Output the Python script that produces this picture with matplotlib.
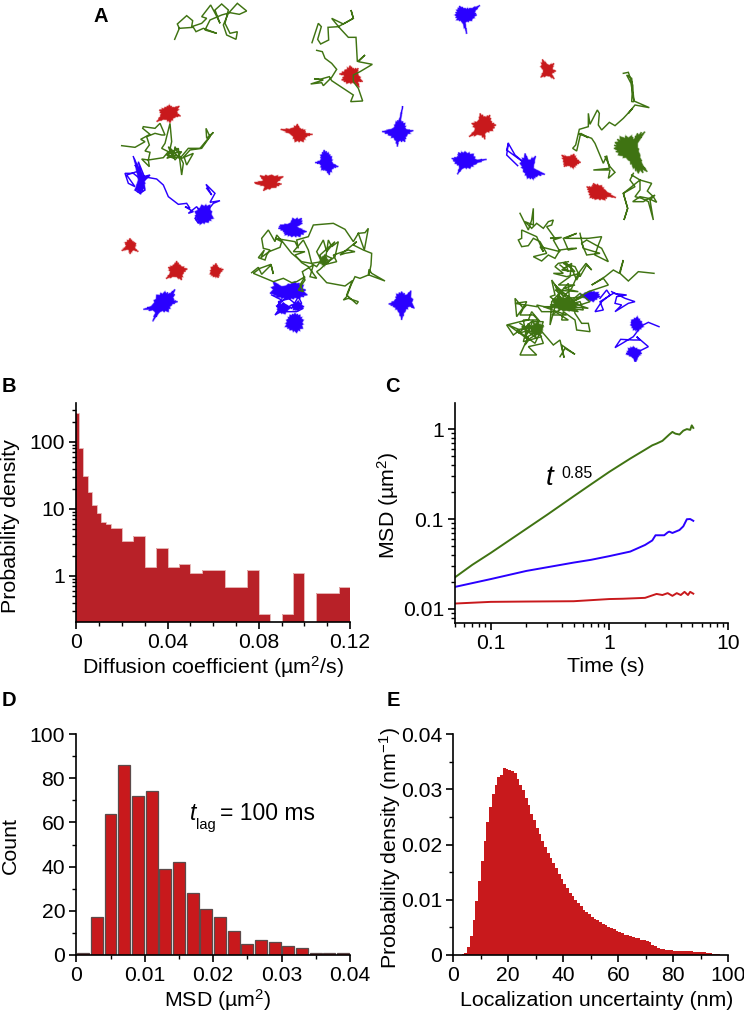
"""Single-particle tracking figure: tracks (A), D histogram (B), MSD (C), MSD histogram (D), uncertainty (E)."""
import matplotlib
matplotlib.use("Agg")
import matplotlib.pyplot as plt
import numpy as np
from matplotlib.ticker import FixedLocator, NullFormatter

WIDTH, HEIGHT = 744, 1014
GREEN = "#3f7312"
BLUE = "#2a00ff"
RED = "#c8191c"
DARK_RED = "#b82128"

plt.rcParams["font.family"] = ["Liberation Sans", "DejaVu Sans"]
plt.rcParams["mathtext.default"] = "regular"
plt.rcParams["font.size"] = 15.4

CROP_1 = (90, 0)
CROP_2 = (100, 180)
CROP_3 = (420, 0)
CROP_9 = (110, 115)
CROP_10 = (245, 210)
CROP_11 = (500, 205)
CROP_12 = (560, 65)

GREEN_TOP_LEFT = [(254, 118), (268, 85), (262, 72), (290, 47), (308, 62), (305, 80), (335, 70), (350, 55), (335, 50), (362, 15), (378, 45), (390, 70), (375, 30), (395, 12), (415, 30), (405, 70), (420, 100), (442, 95), (438, 118), (410, 105), (400, 75), (415, 40), (442, 10), (470, 33), (448, 43), (420, 38), (395, 45), (360, 60), (345, 90), (380, 100), (340, 85), (318, 95), (310, 82), (268, 85)]
GREEN_TOP_MID = [(666, 128), (685, 70), (694, 80), (683, 118), (692, 132), (716, 120), (714, 82), (745, 80), (790, 55), (783, 30), (790, 55), (760, 72), (725, 55), (750, 85), (775, 112), (798, 112), (802, 185), (825, 165), (805, 185), (847, 193), (810, 215), (790, 225), (790, 245), (805, 265), (818, 303), (782, 305), (790, 285), (725, 242), (718, 230), (690, 238), (672, 236), (700, 240), (662, 252), (695, 248), (700, 257), (725, 232), (740, 208), (725, 190), (705, 175), (697, 155), (680, 151)]
GREEN_LEFT = [(35, 92), (75, 97), (105, 80), (92, 73), (120, 58), (98, 40), (100, 35), (135, 40), (150, 25), (165, 60), (155, 60), (135, 55), (110, 65), (118, 90), (105, 108), (120, 112), (115, 135), (95, 132), (118, 155), (115, 135), (160, 128), (175, 110), (155, 100), (165, 85), (180, 25), (185, 80), (175, 125), (195, 130), (170, 120), (205, 100), (215, 180), (220, 145), (195, 95), (190, 125), (215, 130), (250, 115), (230, 150), (222, 125), (240, 105), (275, 100), (300, 65), (288, 40), (290, 70), (310, 52), (270, 100), (235, 100), (210, 130), (175, 95), (185, 120), (170, 130), (200, 120), (180, 100), (195, 135), (215, 110), (175, 115)]
GREEN_MID_A = [(20, 188), (40, 172), (50, 193), (78, 165), (85, 192), (78, 163), (45, 175), (25, 190), (85, 215), (115, 205), (140, 218), (155, 215), (180, 200), (165, 225), (175, 245), (160, 240), (180, 210), (172, 185), (205, 165), (195, 200), (215, 205), (190, 170), (170, 158), (150, 135), (180, 125), (145, 125), (175, 90), (190, 120), (200, 160), (230, 155), (215, 125), (235, 90), (245, 125), (238, 165), (270, 140), (280, 95), (260, 110), (250, 90), (245, 125), (270, 95), (225, 135), (235, 165), (275, 155), (265, 135), (310, 120), (330, 125), (300, 130), (285, 135), (335, 95), (325, 105), (355, 120), (380, 130), (378, 165), (372, 195), (420, 213), (380, 190), (372, 178), (370, 195), (345, 205), (330, 200), (318, 225), (305, 260), (295, 270), (310, 265), (340, 275), (335, 282), (305, 255), (322, 212), (300, 228), (245, 218), (215, 185), (225, 178), (260, 145)]
GREEN_MID_B = [(260, 145), (240, 135), (215, 170), (198, 160), (170, 155), (140, 130), (110, 92), (95, 75), (90, 95), (70, 60), (50, 85), (55, 115), (75, 120), (65, 135), (60, 150), (40, 143), (58, 120), (48, 143), (72, 125), (105, 112), (110, 95), (90, 85), (150, 95), (160, 115), (155, 90), (190, 80), (205, 45), (265, 40), (300, 58), (325, 95), (340, 70), (360, 68), (370, 55), (358, 120), (340, 70)]
GREEN_UPPER_RIGHT = [(190, 25), (205, 22), (218, 60), (215, 110), (222, 110), (213, 55), (200, 30), (215, 40), (222, 108), (268, 128), (225, 120), (205, 145), (218, 130), (190, 160), (165, 182), (148, 172), (125, 195), (115, 180), (118, 145), (112, 135), (90, 178), (85, 145), (85, 185), (58, 193), (47, 240), (38, 250), (50, 258), (62, 205), (85, 218), (55, 205), (95, 220), (105, 235), (130, 295), (140, 272), (148, 310), (100, 315), (150, 315), (145, 340), (165, 322), (150, 305), (135, 275)]
GREEN_LOWER_RIGHT = [(220, 325), (210, 345), (225, 365), (190, 385), (203, 430), (192, 465), (203, 430), (190, 385), (240, 345), (275, 355), (262, 378), (280, 395), (290, 412), (265, 400), (240, 395), (218, 410), (250, 410), (285, 390), (270, 405), (280, 465), (265, 410), (245, 400), (225, 395), (240, 375), (240, 345), (215, 330)]
GREEN_BIG_TOP = [(60, 25), (85, 75), (95, 45), (100, 10), (100, 60), (75, 50), (95, 70), (110, 55), (130, 70), (145, 50), (160, 45), (155, 60), (140, 65), (165, 100), (150, 100), (185, 97), (160, 105), (180, 140), (120, 125), (130, 140), (110, 95), (65, 75), (65, 100), (55, 105), (65, 125), (85, 122), (100, 100), (120, 110), (140, 145), (100, 155), (125, 168), (145, 150), (165, 160), (180, 135), (215, 130), (230, 130), (205, 135), (190, 100), (230, 85), (195, 100), (240, 100), (265, 100), (305, 95), (295, 120), (285, 150), (325, 170), (305, 130), (260, 105), (245, 115), (260, 150), (300, 145), (250, 130), (240, 85)]
GREEN_BIG_MID = [(205, 170), (175, 175), (165, 185), (190, 205), (160, 205), (200, 215), (240, 205), (230, 225), (215, 190), (190, 175), (225, 185), (240, 215), (260, 180), (275, 195), (258, 175), (235, 205), (215, 250), (190, 275), (155, 225), (165, 270), (150, 275), (175, 295), (155, 310), (110, 300), (125, 320), (165, 320), (205, 345), (185, 345), (190, 320), (225, 345), (230, 375), (270, 380), (265, 355), (245, 355), (225, 325), (215, 280), (180, 260), (170, 300), (240, 300), (270, 290), (240, 265), (200, 300), (175, 270), (150, 360), (155, 290), (205, 235), (210, 310), (250, 315), (240, 290), (190, 300), (165, 240), (210, 280)]
GREEN_BIG_DENSE = [(180, 180), (205, 200), (195, 170), (225, 200), (185, 195), (215, 175), (210, 215), (175, 240), (225, 240), (190, 250), (235, 260), (165, 255), (220, 290), (150, 300), (265, 310), (190, 285), (235, 320), (175, 310), (250, 275), (160, 285), (225, 305), (130, 305), (200, 330), (155, 330), (235, 280)]
GREEN_BIG_LOW = [(110, 305), (80, 300), (70, 310), (45, 280), (50, 335), (75, 300), (45, 295), (80, 290), (60, 330), (100, 330), (120, 350), (95, 320), (85, 345), (60, 350), (20, 360), (40, 390), (60, 375), (25, 360), (80, 400), (70, 345), (115, 345), (110, 385), (100, 350), (130, 350), (115, 385), (90, 400), (75, 420), (85, 395), (60, 450), (110, 450), (85, 425), (130, 415), (110, 360), (130, 385), (160, 420), (180, 405), (192, 458), (185, 420), (225, 448), (195, 430), (180, 455)]
GREEN_BIG_LOW_DENSE = [(60, 355), (90, 375), (55, 385), (100, 345), (75, 400), (125, 370), (65, 365), (110, 400), (85, 355), (70, 410), (125, 395), (95, 365), (50, 375), (105, 415), (130, 360), (80, 385)]
GREEN_BIG_RIGHT = [(462, 205), (415, 200), (385, 228), (360, 205), (370, 165), (358, 205), (340, 195), (315, 215), (275, 240), (310, 220), (325, 240), (265, 260), (215, 290)]
GREEN_KNOT_UPPER = [(165, 232), (180, 215), (215, 212), (222, 222), (232, 205), (255, 200), (232, 235), (240, 270), (250, 305), (262, 320), (235, 325), (220, 310), (205, 285), (175, 270), (162, 250)]
GREEN_KNOT_MID = [(158, 290), (175, 272), (205, 282), (235, 295), (225, 318), (190, 318), (162, 308)]
GREEN_KNOT_LOW = [(95, 362), (112, 350), (130, 365), (125, 385), (105, 392), (92, 382)]
GREEN_KNOT_CENTRE = [(225, 145), (240, 135), (250, 150), (238, 168), (225, 160)]

BLUE_LEFT = [(70, 125), (85, 160), (75, 150), (95, 185), (85, 140), (105, 190), (90, 215), (75, 225), (90, 235), (105, 225), (95, 195), (70, 175), (45, 175), (55, 205), (75, 215), (50, 180), (80, 170), (105, 195), (120, 180), (100, 185), (140, 192), (160, 210), (175, 245), (205, 268), (230, 265), (240, 280), (225, 275), (250, 290), (235, 295), (260, 275), (270, 290), (255, 310), (265, 325), (290, 290), (310, 265), (330, 257), (300, 262), (315, 235), (288, 208), (305, 240), (290, 220)]
BLUE_LEFT_BLOB = [(255, 290), (275, 270), (300, 270), (310, 310), (295, 322), (270, 328), (258, 315)]
BLUE_LEFT_SMALL = [(72, 130), (90, 160), (105, 190), (105, 220), (92, 238), (75, 225), (85, 195)]
BLUE_TRACK_E = [(293, 497), (260, 465), (265, 430), (285, 465), (315, 490), (260, 450), (265, 430)]
BLUE_SCRIBBLE = [(515, 345), (545, 360), (530, 380), (560, 350), (590, 375), (605, 370), (595, 350), (575, 385), (550, 370), (525, 405), (550, 390), (575, 375), (610, 385), (590, 395), (560, 395), (545, 385), (535, 365), (570, 355)]
BLUE_RIGHT_TRACK = [(300, 280), (320, 255), (330, 270), (305, 290), (285, 320), (310, 315), (300, 290), (340, 265), (380, 270), (350, 275), (345, 295), (365, 300), (345, 320), (385, 295), (405, 290), (375, 280), (335, 260)]
BLUE_LOW_TRACK = [(477, 365), (445, 352), (420, 365), (410, 345), (395, 350), (415, 375), (400, 395), (345, 428), (362, 403), (400, 405), (420, 405), (410, 395), (445, 425), (415, 440), (405, 470), (400, 440), (380, 445)]

BLUE_BLOBS_1 = [
    [(702, 450), (715, 458), (725, 470), (728, 490), (745, 500), (730, 505), (718, 525), (708, 512), (695, 510), (690, 492), (675, 488), (692, 480), (692, 465)],
    [(938, 318), (932, 360), (945, 370), (948, 388), (970, 392), (950, 408), (945, 425), (925, 425), (922, 440), (915, 420), (895, 405), (876, 395), (910, 385), (918, 365), (928, 358)],
]
BLUE_BLOBS_2 = [
    [(540, 135), (570, 130), (578, 115), (605, 115), (607, 130), (590, 140), (620, 155), (600, 170), (575, 170), (555, 165), (550, 155), (535, 145)],
    [(225, 328), (222, 360), (233, 365), (215, 375), (205, 395), (180, 395), (158, 424), (165, 395), (130, 388), (155, 378), (170, 345), (195, 335), (210, 340)],
    [(905, 335), (920, 345), (933, 332), (943, 385), (930, 378), (915, 395), (905, 420), (895, 395), (880, 380), (866, 372), (885, 360), (890, 342)],
    [(585, 400), (600, 405), (610, 420), (608, 445), (590, 458), (570, 450), (556, 440), (560, 420), (570, 405)],
    [(520, 305), (545, 320), (585, 305), (610, 315), (622, 345), (600, 355), (560, 358), (530, 352), (510, 340)],
    [(530, 378), (550, 368), (570, 385), (555, 402), (535, 398)],
    [(575, 375), (595, 362), (612, 380), (595, 392), (580, 390)],
]
BLUE_BLOBS_3 = [
    [(118, 18), (135, 25), (150, 25), (180, 16), (165, 35), (170, 45), (155, 62), (135, 68), (140, 102), (125, 65), (110, 60), (105, 45), (110, 30)],
    [(115, 458), (135, 455), (160, 462), (170, 480), (200, 478), (168, 492), (150, 505), (128, 505), (112, 523), (118, 500), (105, 490), (95, 475), (112, 470)],
    [(315, 460), (325, 480), (347, 468), (340, 505), (375, 523), (350, 530), (340, 538), (322, 535), (310, 515), (300, 490)],
]
BLUE_BLOBS_11 = [
    [(240, 270), (270, 258), (295, 262), (300, 275), (280, 290), (262, 285)],
    [(395, 345), (412, 335), (425, 350), (430, 365), (415, 378), (400, 375), (392, 360)],
    [(385, 430), (400, 425), (420, 435), (425, 445), (415, 455), (408, 470), (398, 458), (380, 448)],
]

RED_BLOBS_1 = [
    [(780, 197), (790, 205), (805, 205), (803, 218), (818, 245), (805, 245), (808, 262), (795, 250), (770, 250), (755, 240), (762, 225), (748, 222), (765, 210)],
    [(238, 315), (250, 322), (268, 318), (262, 340), (272, 348), (255, 352), (240, 368), (225, 358), (200, 365), (212, 345), (208, 330), (225, 322)],
    [(572, 388), (605, 385), (622, 372), (630, 385), (645, 390), (648, 400), (668, 403), (650, 410), (640, 425), (615, 425), (605, 405)],
]
RED_BLOBS_2 = [
    [(463, 8), (490, 2), (480, -13), (515, -15), (550, -10), (530, 10), (545, 12), (528, 22), (490, 32), (495, 20), (470, 12)],
    [(90, 175), (100, 185), (108, 190), (105, 205), (115, 215), (100, 210), (90, 222), (85, 208), (65, 212), (78, 198), (75, 188)],
    [(230, 243), (240, 255), (262, 267), (250, 280), (245, 300), (225, 290), (198, 296), (210, 280), (205, 262), (220, 255)],
    [(348, 250), (355, 262), (370, 268), (360, 280), (355, 293), (340, 290), (330, 282), (333, 262)],
]
RED_BLOBS_3 = [
    [(367, 178), (385, 195), (402, 190), (397, 208), (408, 213), (395, 222), (403, 237), (385, 228), (362, 232), (370, 212), (362, 200)],
    [(180, 340), (195, 350), (210, 345), (215, 365), (228, 375), (218, 392), (195, 400), (195, 418), (180, 405), (147, 410), (165, 390), (155, 370), (175, 362)],
    [(425, 465), (445, 470), (462, 462), (470, 475), (482, 487), (470, 495), (460, 505), (445, 497), (432, 500), (430, 485)],
]
RED_BLOBS_12 = [
    [(80, 365), (95, 365), (100, 355), (125, 362), (135, 375), (168, 398), (145, 395), (135, 405), (105, 403), (90, 398), (85, 380)],
]

# Panel B: probability density on uneven bins
DIFF_EDGES = [0, 0.001, 0.003, 0.005, 0.007, 0.009, 0.011, 0.013, 0.015, 0.02, 0.025, 0.03, 0.035, 0.04, 0.045, 0.05, 0.055, 0.06, 0.065, 0.07, 0.075, 0.08, 0.085, 0.09, 0.095, 0.1, 0.105, 0.11, 0.115, 0.12]
DIFF_DENSITY = [270, 82, 31.5, 18, 11.5, 8.8, 6.4, 6.0, 5.2, 3.3, 4.0, 1.36, 2.6, 1.36, 1.5, 1.1, 1.23, 1.23, 0.68, 0.68, 1.23, 0.27, 0.1, 0.27, 1.1, 0.1, 0.55, 0.55, 0.68]

# Panel C: MSD curves
GREEN_T = [0.05, 0.07, 0.1, 0.2, 0.3, 0.5, 0.7, 1, 1.5, 2, 2.3, 2.5, 2.8, 3.2, 3.4, 3.6, 3.9, 4.2, 4.5, 4.8, 4.95, 5.1]
GREEN_MSD = [0.0225, 0.031, 0.042, 0.078, 0.112, 0.179, 0.243, 0.335, 0.47, 0.59, 0.66, 0.69, 0.74, 0.87, 0.93, 0.89, 0.87, 0.96, 1.0, 0.98, 1.1, 1.03]
BLUE_T = [0.05, 0.1, 0.2, 0.5, 0.7, 1, 1.5, 2, 2.3, 2.45, 2.9, 3.1, 3.2, 3.4, 3.9, 4.2, 4.5, 4.8, 5.1]
BLUE_MSD = [0.0176, 0.0215, 0.0265, 0.0328, 0.0352, 0.0387, 0.0435, 0.0515, 0.0578, 0.066, 0.066, 0.071, 0.0725, 0.07, 0.0755, 0.083, 0.0995, 0.1, 0.0955]
RED_T = [0.05, 0.1, 0.2, 0.5, 1, 1.3, 2, 2.5, 2.8, 3.1, 3.4, 3.7, 4, 4.3, 4.6, 4.8, 5.1]
RED_MSD = [0.0115, 0.012, 0.0121, 0.0122, 0.0129, 0.013, 0.0133, 0.0147, 0.0143, 0.015, 0.014, 0.015, 0.0143, 0.0155, 0.0143, 0.0155, 0.0148]

# Panel D: counts in 0.002 um^2 bins
MSD_CENTRES = [0.001, 0.003, 0.005, 0.007, 0.009, 0.011, 0.013, 0.015, 0.017, 0.019, 0.021, 0.023, 0.025, 0.027, 0.029, 0.031, 0.033, 0.035, 0.037, 0.039]
MSD_COUNTS = [1, 17, 64, 86, 72, 74, 39, 42, 28, 21, 17, 11, 5, 7, 6, 4, 3, 1, 1, 1]

# Panel E: density in 1 nm bins, 0-100 nm
UNCERTAINTY_DENSITY = [
    0, 0, 0, 0.0001, 0.0004, 0.0014, 0.0034, 0.0063, 0.0097, 0.0134,
    0.017, 0.0207, 0.0241, 0.0268, 0.0292, 0.0308, 0.0322, 0.0325, 0.0339, 0.0337,
    0.0334, 0.0333, 0.033, 0.0318, 0.0308, 0.0299, 0.0285, 0.0271, 0.0256, 0.0245,
    0.023, 0.0219, 0.0207, 0.0196, 0.0184, 0.0175, 0.0166, 0.0157, 0.0147, 0.0138,
    0.0129, 0.0121, 0.0113, 0.0106, 0.01, 0.0094, 0.0088, 0.0082, 0.0077, 0.0074,
    0.0069, 0.0066, 0.0063, 0.006, 0.0057, 0.0054, 0.0051, 0.0048, 0.0047, 0.0044,
    0.0042, 0.0039, 0.0037, 0.0036, 0.0034, 0.0033, 0.0031, 0.003, 0.0028, 0.0027,
    0.0025, 0.0024, 0.0019, 0.0016, 0.0012, 0.0011, 0.001, 0.0009, 0.0009, 0.0009,
    0.0008, 0.0008, 0.0008, 0.0007, 0.0007, 0.0007, 0.0007, 0.0006, 0.0006, 0.0006,
    0.0005, 0.0005, 0.0004, 0.0004, 0.0002, 0.0001, 0.0001, 0.00005, 0, 0,
]


def fx(x):
    return x / WIDTH


def fy(y):
    return 1 - y / HEIGHT


def add_panel(fig, left, right, top, bottom):
    ax = fig.add_axes([fx(left), fy(bottom), fx(right - left), (bottom - top) / HEIGHT])
    ax.spines[["top", "right"]].set_visible(False)
    ax.spines[["left", "bottom"]].set_linewidth(1.2)
    ax.tick_params(which="major", direction="out", length=5, width=1.2, pad=3, labelsize=15.2)
    ax.tick_params(which="minor", direction="out", length=3, width=1.0)
    ax.patch.set_alpha(0)
    return ax


def place_labels(ax, fig, xlabel, x_pos, ylabel, y_pos):
    ax.set_xlabel(xlabel, va="center", fontsize=15.4)
    ax.set_ylabel(ylabel, va="center", fontsize=15.4)
    ax.xaxis.set_label_coords(fx(x_pos[0]), fy(x_pos[1]), transform=fig.transFigure)
    ax.yaxis.set_label_coords(fx(y_pos[0]), fy(y_pos[1]), transform=fig.transFigure)


def to_px(points, origin):
    pts = np.array(points, dtype=float) / 3
    return pts[:, 0] + origin[0], pts[:, 1] + origin[1]


def draw_track(ax, points, origin, color):
    x, y = to_px(points, origin)
    ax.plot(x, y, color=color, lw=1.05, solid_joinstyle="miter")


def draw_blob(ax, points, origin, color):
    # outline as read, with each edge cut into small spikes so it looks like a jittering spot
    x, y = to_px(points, origin)
    cx, cy = x.mean(), y.mean()
    nx, ny = np.roll(x, -1), np.roll(y, -1)
    spiky_x, spiky_y = [], []
    for i in range(len(x)):
        spiky_x += [x[i], cx + (x[i] * 2 / 3 + nx[i] / 3 - cx) * 0.86, cx + ((x[i] + nx[i]) / 2 - cx) * 1.02, cx + (x[i] / 3 + nx[i] * 2 / 3 - cx) * 0.86]
        spiky_y += [y[i], cy + (y[i] * 2 / 3 + ny[i] / 3 - cy) * 0.86, cy + ((y[i] + ny[i]) / 2 - cy) * 1.02, cy + (y[i] / 3 + ny[i] * 2 / 3 - cy) * 0.86]
    ax.fill(spiky_x, spiky_y, color=color, lw=1.4, alpha=0.3)
    ax.fill(spiky_x, spiky_y, color=color, lw=0.4)


def draw_tracks_panel(fig):
    ax = fig.add_axes([0, 0, 1, 1])
    ax.set_xlim(0, WIDTH)
    ax.set_ylim(HEIGHT, 0)
    ax.axis("off")

    for blobs, origin in [(RED_BLOBS_1, CROP_1), (RED_BLOBS_2, CROP_2), (RED_BLOBS_3, CROP_3), (RED_BLOBS_12, CROP_12)]:
        for blob in blobs:
            draw_blob(ax, blob, origin, RED)
    for blobs, origin in [(BLUE_BLOBS_1, CROP_1), (BLUE_BLOBS_2, CROP_2), (BLUE_BLOBS_3, CROP_3)]:
        for blob in blobs:
            draw_blob(ax, blob, origin, BLUE)
    draw_blob(ax, BLUE_LEFT_BLOB, CROP_9, BLUE)
    draw_blob(ax, BLUE_LEFT_SMALL, CROP_9, BLUE)
    draw_track(ax, BLUE_LEFT, CROP_9, BLUE)
    draw_track(ax, BLUE_TRACK_E, CROP_3, BLUE)
    draw_track(ax, BLUE_SCRIBBLE, CROP_2, BLUE)

    draw_track(ax, GREEN_TOP_LEFT, CROP_1, GREEN)
    draw_track(ax, GREEN_TOP_MID, CROP_1, GREEN)
    draw_track(ax, GREEN_LEFT, CROP_9, GREEN)
    draw_track(ax, GREEN_MID_A, CROP_10, GREEN)
    draw_track(ax, GREEN_MID_B, CROP_10, GREEN)
    draw_blob(ax, GREEN_KNOT_CENTRE, CROP_10, GREEN)
    draw_track(ax, GREEN_UPPER_RIGHT, CROP_12, GREEN)
    draw_track(ax, GREEN_LOWER_RIGHT, CROP_12, GREEN)
    draw_blob(ax, GREEN_KNOT_UPPER, CROP_12, GREEN)
    for track in [GREEN_BIG_TOP, GREEN_BIG_MID, GREEN_BIG_DENSE, GREEN_BIG_LOW, GREEN_BIG_LOW_DENSE, GREEN_BIG_RIGHT]:
        draw_track(ax, track, CROP_11, GREEN)
    draw_blob(ax, GREEN_KNOT_MID, CROP_11, GREEN)
    draw_blob(ax, GREEN_KNOT_LOW, CROP_11, GREEN)

    for blob in BLUE_BLOBS_11:
        draw_blob(ax, blob, CROP_11, BLUE)
    draw_track(ax, BLUE_RIGHT_TRACK, CROP_11, BLUE)
    draw_track(ax, BLUE_LOW_TRACK, CROP_11, BLUE)


def draw_diffusion_panel(fig):
    ax = add_panel(fig, 76.3, 350, 403, 622)
    edges = np.array(DIFF_EDGES)
    ax.bar(edges[:-1], DIFF_DENSITY, width=np.diff(edges), align="edge", color=DARK_RED, lw=0)
    ax.stairs(DIFF_DENSITY, edges, color="#e6b5b5", lw=0.7, baseline=None)
    ax.set_yscale("log")
    ax.set_xlim(0, 0.12)
    ax.set_ylim(0.205, 382)
    ax.set_xticks([0, 0.04, 0.08, 0.12], ["0", "0.04", "0.08", "0.12"])
    ax.xaxis.set_minor_locator(FixedLocator(np.arange(0, 0.121, 0.01)))
    ax.set_yticks([1, 10, 100], ["1", "10", "100"])
    ax.yaxis.set_minor_locator(FixedLocator([0.3, 0.4, 0.5, 0.6, 0.7, 0.8, 0.9, 2, 3, 4, 5, 6, 7, 8, 9, 20, 30, 40, 50, 60, 70, 80, 90, 200, 300]))
    ax.yaxis.set_minor_formatter(NullFormatter())
    place_labels(ax, fig, "Diffusion coefficient (µm$^{2}$/s)", (213, 667), "Probability density", (11, 526))


def draw_msd_curves_panel(fig):
    ax = add_panel(fig, 455, 728, 403, 622.7)
    ax.plot(GREEN_T, GREEN_MSD, color=GREEN, lw=1.4)
    ax.plot(BLUE_T, BLUE_MSD, color=BLUE, lw=1.4)
    ax.plot(RED_T, RED_MSD, color=RED, lw=1.4)
    ax.set_xscale("log")
    ax.set_yscale("log")
    ax.set_xlim(0.05, 10)
    ax.set_ylim(0.00704, 1.95)
    ax.set_xticks([0.1, 1, 10], ["0.1", "1", "10"])
    ax.set_yticks([0.01, 0.1, 1], ["0.01", "0.1", "1"])
    ax.xaxis.set_minor_formatter(NullFormatter())
    ax.yaxis.set_minor_formatter(NullFormatter())
    place_labels(ax, fig, "Time (s)", (606, 667), "MSD (µm$^{2}$)", (388, 505))
    fig.text(fx(546), fy(478), "t", style="italic", fontsize=20, ha="left", va="center")
    fig.text(fx(561), fy(473), "0.85", fontsize=11.5, ha="left", va="center")


def draw_msd_hist_panel(fig):
    ax = add_panel(fig, 76.3, 350, 734, 955)
    ax.bar(MSD_CENTRES, MSD_COUNTS, width=0.00175, color=RED, edgecolor="#5c4a4a", lw=0.9)
    ax.set_xlim(0, 0.04)
    ax.set_ylim(0, 100)
    ax.set_xticks([0, 0.01, 0.02, 0.03, 0.04], ["0", "0.01", "0.02", "0.03", "0.04"])
    ax.xaxis.set_minor_locator(FixedLocator([0.005, 0.015, 0.025, 0.035]))
    ax.set_yticks([0, 20, 40, 60, 80, 100])
    ax.yaxis.set_minor_locator(FixedLocator([10, 30, 50, 70, 90]))
    place_labels(ax, fig, "MSD (µm$^{2}$)", (218, 1000), "Count", (10, 846))
    fig.text(fx(190), fy(813), "t", style="italic", fontsize=16.5, ha="left", va="center")
    fig.text(fx(196), fy(825), "lag", fontsize=10.5, ha="left", va="center")
    fig.text(fx(220), fy(813), "= 100 ms", fontsize=16.5, ha="left", va="center")


def draw_uncertainty_panel(fig):
    ax = add_panel(fig, 453.3, 728.3, 734, 955)
    edges = np.arange(0, 101)
    ax.bar(edges[:-1], UNCERTAINTY_DENSITY, width=1, align="edge", color=RED, lw=0)
    ax.set_xlim(0, 100)
    ax.set_ylim(0, 0.04)
    ax.set_xticks([0, 20, 40, 60, 80, 100])
    ax.xaxis.set_minor_locator(FixedLocator([10, 30, 50, 70, 90]))
    ax.set_yticks([0, 0.01, 0.02, 0.03, 0.04], ["0", "0.01", "0.02", "0.03", "0.04"])
    ax.yaxis.set_minor_locator(FixedLocator([0.005, 0.015, 0.025, 0.035]))
    place_labels(ax, fig, "Localization uncertainty (nm)", (597, 1001), "Probability density (nm$^{-1}$)", (390, 848))


def main():
    fig = plt.figure(figsize=(WIDTH / 100, HEIGHT / 100), dpi=100)
    draw_tracks_panel(fig)
    draw_diffusion_panel(fig)
    draw_msd_curves_panel(fig)
    draw_msd_hist_panel(fig)
    draw_uncertainty_panel(fig)

    for letter, x, y in [("A", 93, 16), ("B", 2, 386), ("C", 385, 386), ("D", 2, 700), ("E", 387, 700)]:
        fig.text(fx(x), fy(y), letter, fontweight="bold", fontsize=14.5, ha="left", va="center")

    fig.savefig("out.png", dpi=100)
    plt.close(fig)


if __name__ == "__main__":
    main()
